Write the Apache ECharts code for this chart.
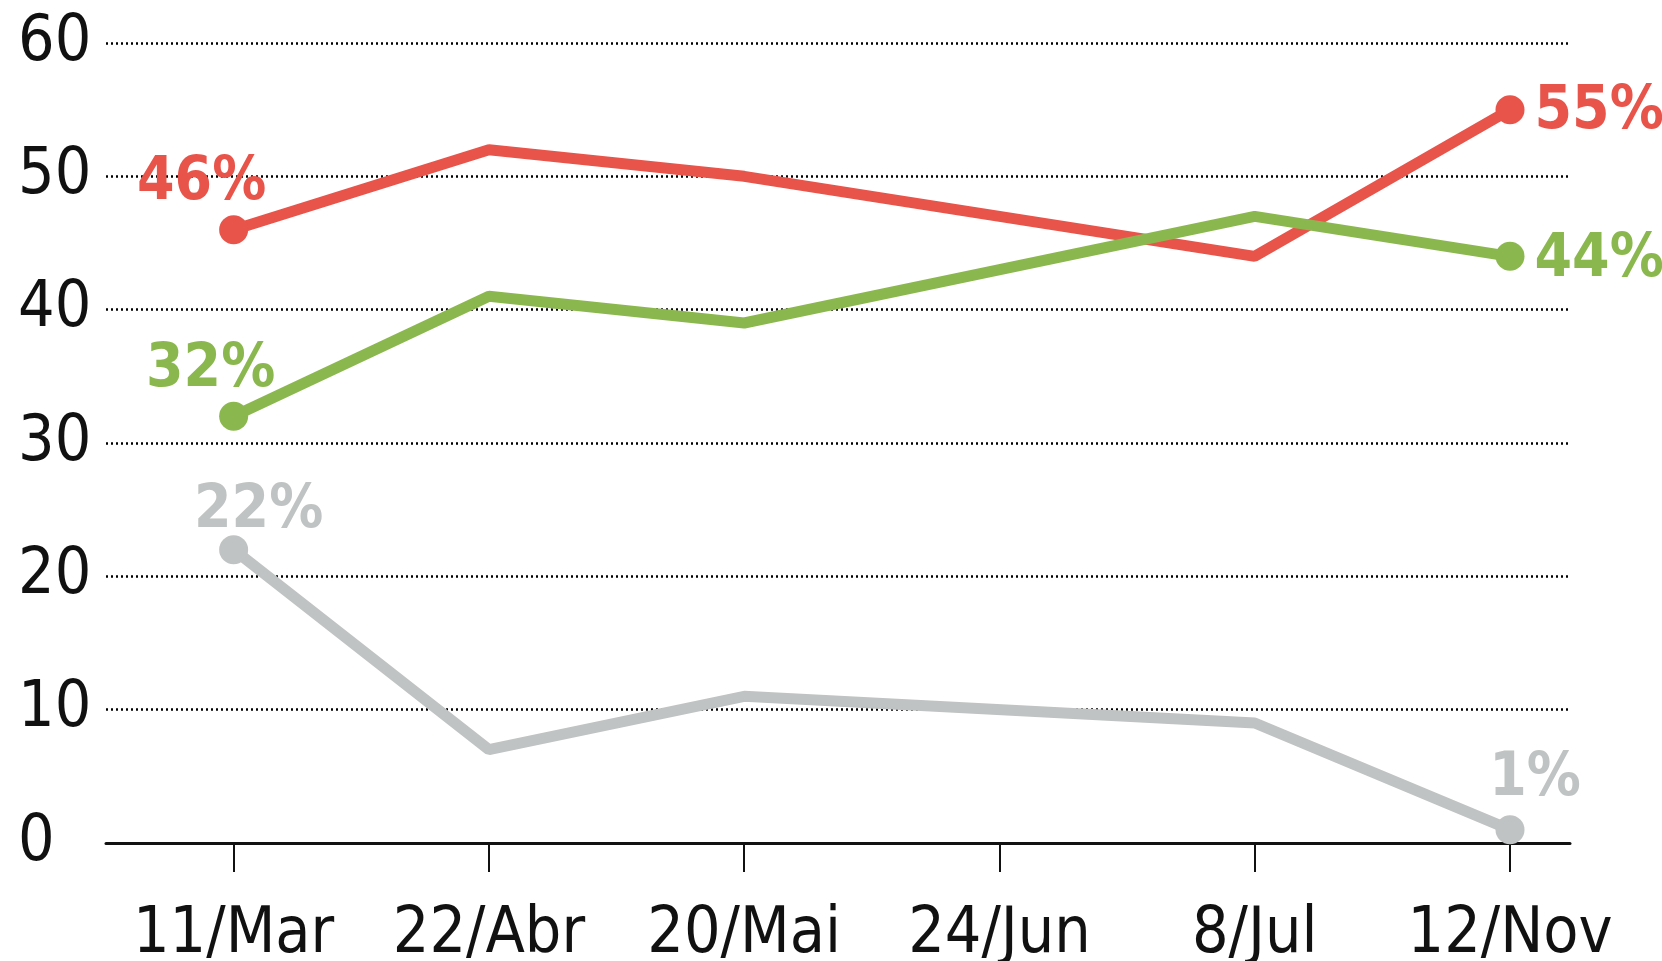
<!DOCTYPE html>
<html>
<head>
<meta charset="utf-8">
<script src="https://cdn.jsdelivr.net/npm/echarts@6/dist/echarts.min.js"></script>
<style>
  html, body { margin: 0; padding: 0; background: #fff; }
  #chart { width: 1662px; height: 961px; }
</style>
</head>
<body>
<div id="chart"></div>
<script>
// dados
var categories = ['11/Mar', '22/Abr', '20/Mai', '24/Jun', '8/Jul', '12/Nov']
var serieVermelha = [46, 52, 50, null, 44, 55]
var serieVerde = [32, 41, 39, null, 47, 44]
var serieCinza = [22, 7, 11, null, 9, 1]
var yTicks = [0, 10, 20, 30, 40, 50, 60]

var FONT = "'Liberation Sans Narrow', 'DejaVu Sans Condensed', 'Liberation Sans', sans-serif"

// só o primeiro e o último ponto têm marcador e rótulo
function buildData(values, color, firstLabel, lastLabel) {
  var out = []
  var last = values.length - 1
  values.forEach(function(v, i) {
    if (v === null) return
    var isEnd = i === 0 || i === last
    var item = { value: [i, v] }
    if (isEnd) {
      var pos = i === 0 ? firstLabel : lastLabel
      item.symbol = 'circle'
      item.symbolSize = 29
      item.label = {
        show: true,
        position: pos.position,
        distance: pos.distance || 0,
        offset: pos.offset,
        formatter: v + '%',
        color: color,
        fontFamily: FONT,
        fontWeight: 'bold',
        fontSize: 60
      }
    } else {
      item.symbol = 'none'
    }
    out.push(item)
  })
  return out
}

function lineSeries(name, values, color, firstLabel, lastLabel) {
  return {
    name: name,
    type: 'line',
    data: buildData(values, color, firstLabel, lastLabel),
    lineStyle: { color: color, width: 11 },
    itemStyle: { color: color },
    label: { show: false },
    emphasis: { disabled: true },
    animation: false
  }
}

var chart = echarts.init(document.getElementById('chart'))
chart.setOption({
  backgroundColor: '#fff',
  grid: { left: 106, right: 92, top: 43, bottom: 118, outerBoundsMode: 'none' },
  xAxis: {
    type: 'value',
    min: -0.5,
    max: 5.235,
    splitLine: { show: false },
    axisLine: { show: true, onZero: false, lineStyle: { color: '#111', width: 3 } },
    axisTick: {
      show: true,
      length: 29,
      lineStyle: { color: '#111', width: 2 },
      customValues: categories.map(function(c, i) { return i })
    },
    axisLabel: {
      customValues: categories.map(function(c, i) { return i }),
      formatter: function(v) { return categories[Math.round(v)] },
      fontFamily: FONT,
      fontSize: 64,
      color: '#111',
      margin: 60
    }
  },
  yAxis: {
    type: 'value',
    min: yTicks[0],
    max: yTicks[yTicks.length - 1],
    interval: 10,
    axisLine: { show: false },
    axisTick: { show: false },
    splitLine: { lineStyle: { color: '#000', width: 2.5, type: [2, 3] } },
    axisLabel: {
      align: 'left',
      margin: 88,
      fontFamily: FONT,
      fontSize: 64,
      color: '#111'
    }
  },
  series: [
    lineSeries('Cinza', serieCinza,
      '#c0c3c3', { position: 'inside', offset: [25, -38] }, { position: 'inside', offset: [25, -50] }),
    lineSeries('Vermelho', serieVermelha,
      '#e8544a', { position: 'inside', offset: [-32, -46] }, { position: 'right', distance: 10, offset: [0, 3] }),
    lineSeries('Verde', serieVerde,
      '#8bb84e', { position: 'inside', offset: [-23, -46] }, { position: 'right', distance: 10, offset: [0, 4] })
  ]
})
</script>
</body>
</html>
